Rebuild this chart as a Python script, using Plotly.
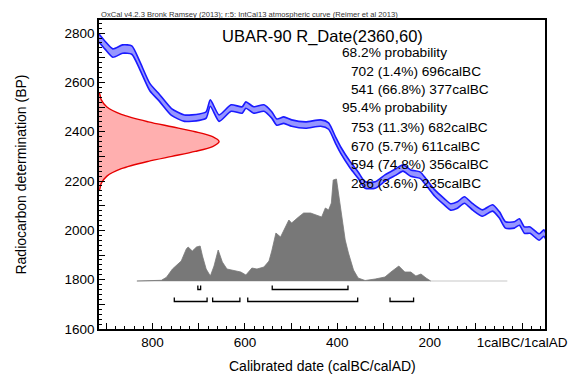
import plotly.graph_objects as go

# ---------------- data ----------------
# IntCal13 calibration curve: calendar year BC (negative = AD), BP, 1-sigma
curve_bc = [916, 903, 886, 865, 845, 828, 806, 785, 759, 731, 699, 684, 675, 656, 630, 606, 598,
            581, 559, 542, 531, 516, 499, 469, 436, 419, 404, 393, 372, 355, 340, 318, 297, 273,
            258, 241, 221, 208, 189, 168, 155, 140, 125, 107, 86, 64, 49, 36, 17, 6, -5, -17,
            -37, -47, -52]
curve_bp = [2780, 2751, 2719, 2735, 2731, 2670, 2581, 2537, 2480, 2455, 2459, 2468, 2516, 2455,
            2496, 2488, 2508, 2488, 2496, 2468, 2439, 2447, 2435, 2427, 2435, 2423, 2366, 2326,
            2265, 2224, 2184, 2184, 2212, 2237, 2253, 2232, 2224, 2196, 2151, 2115, 2095, 2103,
            2123, 2095, 2070, 2091, 2062, 2022, 2022, 2034, 2001, 2001, 1973, 1989, 1973]
curve_err = [16, 16, 17, 17, 17, 16, 15, 14, 14, 13, 13, 13, 13, 13, 13, 13, 13,
             13, 13, 13, 13, 13, 13, 13, 13, 13, 13, 13, 13, 13, 13, 13, 13, 13,
             13, 13, 13, 13, 13, 13, 13, 13, 13, 13, 13, 13, 13, 13, 13, 13, 13, 13,
             13, 13, 13]

# Radiocarbon date R_Date(2360,60): relative density at BP values
date_bp = [2555, 2530, 2500, 2470, 2440, 2420, 2400, 2380, 2360, 2340, 2320, 2300, 2280,
           2250, 2220, 2190, 2165]
date_dens = [0.005, 0.018, 0.066, 0.186, 0.411, 0.607, 0.801, 0.946, 1.0, 0.946, 0.801,
             0.607, 0.411, 0.186, 0.066, 0.018, 0.005]

# Calibrated probability distribution (relative heights) vs year BC
post_bc = [834, 781, 770, 757, 738, 727, 723, 714, 705, 697, 692, 684, 675, 667, 658, 649,
           639, 619, 609, 598, 585, 574, 559, 548, 542, 533, 523, 505, 499, 484, 473, 458,
           445, 434, 426, 419, 413, 409, 402, 393, 383, 376, 365, 355, 340, 318, 297, 284,
           267, 254, 241, 230, 219, 208, 198]
post_p = [0, 0.7, 3.7, 12, 20, 32, 34, 30, 34, 35, 25, 12, 5, 15, 31, 19,
          12, 10, 9, 6, 13, 12, 14, 20, 30, 48, 44, 61, 58, 64, 68, 68,
          66, 64, 73, 71, 78, 101, 102, 71, 41, 28, 11, 3, 0.5, 2, 4, 9,
          15, 9, 9, 5, 7, 3, 0]
post_span = [834, 32]

# Ranges (from, to, percent)
range68 = [(702, 696, 1.4), (541, 377, 66.8)]
range95 = [(753, 682, 11.3), (670, 611, 5.7), (594, 356, 74.8), (286, 235, 3.6)]

title = "UBAR-90 R_Date(2360,60)"
subtitle = "OxCal v4.2.3 Bronk Ramsey (2013); r:5: IntCal13 atmospheric curve (Reimer et al 2013)"
x_tickvals = [900, 800, 700, 600, 500, 400, 300, 200, 100, 0]
x_ticktext = ["", "800", "", "600", "", "400", "", "200", "", "1calBC/1calAD"]
y_tickvals = [1600, 1700, 1800, 1900, 2000, 2100, 2200, 2300, 2400, 2500, 2600, 2700, 2800]
y_ticktext = ["1600", "", "1800", "", "2000", "", "2200", "", "2400", "", "2600", "", "2800"]

# ---------------- figure ----------------
FONT = "Liberation Sans, Arial, sans-serif"
X_RANGE = [916, -49.5]
Y_RANGE = [1600, 2853]
fig = go.Figure()

# calibration curve band
upper = [b + e for b, e in zip(curve_bp, curve_err)]
lower = [b - e for b, e in zip(curve_bp, curve_err)]
fig.add_trace(go.Scatter(x=curve_bc, y=upper, mode="lines", line=dict(color="#1a1aff", width=1.6, shape="spline", smoothing=0.6),
                         hoverinfo="skip"))
fig.add_trace(go.Scatter(x=curve_bc, y=lower, mode="lines", line=dict(color="#1a1aff", width=1.6, shape="spline", smoothing=0.6),
                         fill="tonexty", fillcolor="rgba(150,150,255,1)", hoverinfo="skip"))

# radiocarbon date distribution on the y axis
RED_W = 260
rx = [X_RANGE[0]] + [X_RANGE[0] - d * RED_W for d in date_dens] + [X_RANGE[0]]
ry = [date_bp[0]] + date_bp + [date_bp[-1]]
fig.add_trace(go.Scatter(x=rx, y=ry, mode="lines", fill="toself", fillcolor="rgba(255,175,175,1)",
                         line=dict(color="#e60000", width=1.4, shape="spline", smoothing=0.8), hoverinfo="skip"))

# posterior distribution (on hidden y2 axis)
fig.add_trace(go.Scatter(x=post_span, y=[0, 0], mode="lines", line=dict(color="#c8c8c8", width=1.2),
                         yaxis="y2", hoverinfo="skip"))
fig.add_trace(go.Scatter(x=post_bc, y=post_p, mode="lines", fill="tozeroy", fillcolor="#787878",
                         line=dict(color="#787878", width=0.8), yaxis="y2", hoverinfo="skip"))

# range brackets
def bracket(a, b, ylev, ytop):
    fig.add_trace(go.Scatter(x=[a, a, b, b], y=[ytop, ylev, ylev, ytop], mode="lines",
                             line=dict(color="black", width=1.3), yaxis="y2", hoverinfo="skip"))

for a, b, _ in range68:
    bracket(a, b, -8.5, -4.5)
for a, b, _ in range95:
    bracket(a, b, -20.5, -16.5)

# annotations
ann = []
def px2paper(px, py):
    return (px - 99) / 449.0, (329 - py) / 309.0

tx, ty = px2paper(324, 36)
ann.append(dict(text=title, x=tx, y=ty, xref="paper", yref="paper", showarrow=False,
                font=dict(size=16.5, color="black", family=FONT), xanchor="center", yanchor="middle"))
sx, sy = px2paper(99, 14)
ann.append(dict(text=subtitle, x=sx, y=sy, xref="paper", yref="paper", showarrow=False,
                font=dict(size=7.6, color="#333333", family=FONT), xanchor="left", yanchor="middle"))

lines = [("68.2% probability", 342)]
for a, b, p in range68:
    lines.append((f"{a} ({p}%) {b}calBC", 351))
lines.append(("95.4% probability", 342))
for a, b, p in range95:
    lines.append((f"{a} ({p}%) {b}calBC", 351))
ys = [52, 71, 89, 108, 127, 146, 164, 183]
for (txt, lx), yy in zip(lines, ys):
    ax_, ay_ = px2paper(lx, yy)
    ann.append(dict(text=txt, x=ax_, y=ay_, xref="paper", yref="paper", showarrow=False,
                    font=dict(size=13.7, color="black", family=FONT), xanchor="left", yanchor="middle"))

xx, xy = px2paper(324, 366)
ann.append(dict(text="Calibrated date (calBC/calAD)", x=xx, y=xy, xref="paper", yref="paper", showarrow=False,
                font=dict(size=14, color="black", family=FONT), xanchor="center", yanchor="middle"))
yx, yy_ = px2paper(20, 175)
ann.append(dict(text="Radiocarbon determination (BP)", x=yx, y=yy_, xref="paper", yref="paper", showarrow=False,
                textangle=-90, font=dict(size=14, color="black", family=FONT), xanchor="center", yanchor="middle"))

fig.update_layout(
    width=580, height=379, autosize=False,
    margin=dict(l=99, r=32, t=20, b=50, pad=0),
    paper_bgcolor="white", plot_bgcolor="white",
    showlegend=False,
    font=dict(family=FONT, size=13.5, color="black"),
    annotations=ann,
    xaxis=dict(range=X_RANGE, tickmode="array", tickvals=x_tickvals, ticktext=x_ticktext,
               ticks="inside", ticklen=6, tickwidth=1.3, tickcolor="black",
               showline=True, linecolor="black", linewidth=1.6, mirror=True,
               showgrid=False, zeroline=False, tickfont=dict(size=13.5, family=FONT),
               minor=dict(ticks="inside", ticklen=3, tickwidth=1, tickcolor="black",
                          tickmode="linear", tick0=0, dtick=20, showgrid=False)),
    yaxis=dict(range=Y_RANGE, tickmode="array", tickvals=y_tickvals, ticktext=y_ticktext,
               ticks="inside", ticklen=6, tickwidth=1.3, tickcolor="black",
               showline=True, linecolor="black", linewidth=1.6, mirror=True,
               showgrid=False, zeroline=False, tickfont=dict(size=13.5, family=FONT),
               minor=dict(ticks="inside", ticklen=3, tickwidth=1, tickcolor="black",
                          tickmode="linear", tick0=0, dtick=20, showgrid=False)),
    yaxis2=dict(range=[-48, 261], overlaying="y", visible=False, showgrid=False, zeroline=False),
)

fig.write_html("out.html")
